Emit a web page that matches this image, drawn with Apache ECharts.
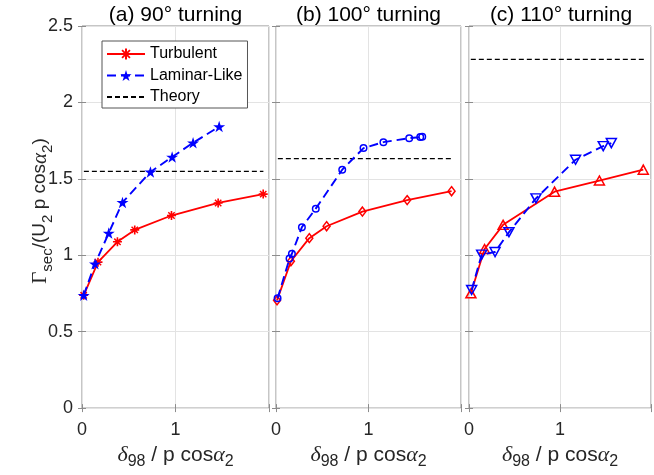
<!DOCTYPE html>
<html><head><meta charset="utf-8">
<script src="https://cdn.jsdelivr.net/npm/echarts@6/dist/echarts.min.js"></script>
<style>html,body{margin:0;padding:0;background:#fff}#c{width:654px;height:475px}</style>
</head><body><div id="c"></div>
<script>
const panelTitles = ['(a) 90° turning', '(b) 100° turning', '(c) 110° turning'];
const seriesNames = ['Turbulent', 'Laminar-Like', 'Theory'];

const turb90X = [0.018, 0.171, 0.379, 0.564, 0.957, 1.456, 1.938];
const turb90Y = [0.738, 0.955, 1.088, 1.166, 1.260, 1.342, 1.400];
const lam90X = [0.018, 0.139, 0.286, 0.433, 0.732, 0.964, 1.188, 1.467];
const lam90Y = [0.738, 0.944, 1.145, 1.346, 1.545, 1.643, 1.736, 1.842];

const turb100X = [0.011, 0.161, 0.360, 0.547, 0.934, 1.418, 1.898];
const turb100Y = [0.705, 0.961, 1.112, 1.190, 1.286, 1.361, 1.419];
const lam100X = [0.017, 0.146, 0.172, 0.280, 0.430, 0.716, 0.946, 1.161, 1.440, 1.559, 1.581];
const lam100Y = [0.718, 0.978, 1.010, 1.184, 1.305, 1.560, 1.701, 1.740, 1.766, 1.773, 1.775];

const turb110X = [0.021, 0.171, 0.375, 0.940, 1.433, 1.915];
const turb110Y = [0.751, 1.041, 1.199, 1.416, 1.489, 1.560];
const lam110X = [0.029, 0.139, 0.286, 0.439, 0.736, 1.171, 1.475, 1.564];
const lam110Y = [0.773, 1.004, 1.021, 1.151, 1.372, 1.625, 1.714, 1.734];

const theoryY = [1.549, 1.632, 2.282];
const theoryXStart = [0.02, 0.02, 0.02];
const theoryXEnd = [1.94, 1.90, 1.93];

const xTickLabels = ['0', '1'];

function pairs(xs, ys) { return xs.map((x, i) => [x, ys[i]]); }

const RED = '#ff0000', BLUE = '#0000ff';
const FONT = 'Liberation Sans, Arial, sans-serif';
const SERIF = 'Liberation Serif, Times New Roman, serif';
const AXC = '#8c8c8c';

const asterisk = 'path://M-5,-0.9L5,-0.9L5,0.9L-5,0.9Z M-0.9,-5L0.9,-5L0.9,5L-0.9,5Z M-2.97,-4.1L4.1,2.97L2.97,4.1L-4.1,-2.97Z M4.1,-2.97L-2.97,4.1L-4.1,2.97L2.97,-4.1Z';
const pentagram = 'path://M0,-10L2.245,-3.09L9.51,-3.09L3.63,1.18L5.88,8.09L0,3.82L-5.88,8.09L-3.63,1.18L-9.51,-3.09L-2.245,-3.09Z';

const panels = [
  { turb: pairs(turb90X, turb90Y), lam: pairs(lam90X, lam90Y),
    tSym: asterisk, tSize: 9, tFill: RED, lSym: pentagram, lSize: [12, 11.5], lFill: BLUE, lRot: 0 },
  { turb: pairs(turb100X, turb100Y), lam: pairs(lam100X, lam100Y),
    tSym: 'diamond', tSize: [7, 9], tFill: 'rgba(0,0,0,0)', lSym: 'circle', lSize: 6.5, lFill: 'rgba(0,0,0,0)', lRot: 0 },
  { turb: pairs(turb110X, turb110Y), lam: pairs(lam110X, lam110Y),
    tSym: 'triangle', tSize: [10, 9], tFill: 'rgba(0,0,0,0)', lSym: 'triangle', lSize: [10, 9], lFill: 'rgba(0,0,0,0)', lRot: 180 }
];

const gridLefts = [82, 276, 469];
const gridWidths = [187, 185, 184];
const TOP = 26, H = 385;

const xRich = {
  d: { fontFamily: SERIF, fontStyle: 'italic', fontSize: 22, lineHeight: 30, color: '#262626' },
  n: { fontFamily: FONT, fontSize: 21, lineHeight: 30, color: '#262626' },
  s: { fontFamily: FONT, fontSize: 16, lineHeight: 11, verticalAlign: 'bottom', color: '#262626' }
};
const xName = '{d|δ}{s|98}{n| / p cos}{d|α}{s|2}';

const grids = [], xAxes = [], yAxes = [], series = [], titles = [];
panels.forEach((p, i) => {
  grids.push({ left: gridLefts[i], top: TOP, width: gridWidths[i], height: H,
    show: true, borderColor: AXC, borderWidth: 1, backgroundColor: 'rgba(0,0,0,0)' });
  titles.push({ text: panelTitles[i], left: gridLefts[i] + gridWidths[i] / 2, top: 5, textAlign: 'center', padding: 0,
    textStyle: { fontFamily: FONT, fontSize: 21, fontWeight: 'normal', color: '#000' } });
});
panels.forEach((p, i) => {
  xAxes.push({ type: 'value', gridIndex: i, min: 0, max: 2, interval: 1,
    axisLine: { show: false },
    axisTick: { show: true, inside: true, length: 4, lineStyle: { color: AXC } },
    splitLine: { show: true, lineStyle: { color: '#e3e3e3', width: 1 } },
    axisLabel: { fontFamily: FONT, fontSize: 18, color: '#262626', margin: 13,
      formatter: v => (v < xTickLabels.length ? xTickLabels[v] : '') },
    name: xName, nameLocation: 'middle', nameGap: 30, nameTextStyle: { rich: xRich } });
  yAxes.push({ type: 'value', gridIndex: i, min: 0, max: 2.5, interval: 0.5,
    axisLine: { show: false },
    axisTick: { show: true, inside: true, length: 4, lineStyle: { color: AXC } },
    splitLine: { show: true, lineStyle: { color: '#e3e3e3', width: 1 } },
    axisLabel: { show: i === 0, fontFamily: FONT, fontSize: 18, color: '#262626', margin: 9 } });
});
panels.forEach((p, i) => {
  // mirrored ticks on top and right (box style)
  xAxes.push({ type: 'value', gridIndex: i, position: 'top', min: 0, max: 2, interval: 1,
    axisLine: { show: false }, splitLine: { show: false }, axisLabel: { show: false },
    axisTick: { show: true, inside: true, length: 4, lineStyle: { color: AXC } } });
  yAxes.push({ type: 'value', gridIndex: i, position: 'right', min: 0, max: 2.5, interval: 0.5,
    axisLine: { show: false }, splitLine: { show: false }, axisLabel: { show: false },
    axisTick: { show: true, inside: true, length: 4, lineStyle: { color: AXC } } });
});
panels.forEach((p, i) => {
  series.push({ name: seriesNames[0], type: 'line', xAxisIndex: i, yAxisIndex: i, data: p.turb,
    symbol: p.tSym, symbolSize: p.tSize, showSymbol: true,
    lineStyle: { color: RED, width: 1.8 },
    itemStyle: { color: p.tFill, borderColor: RED, borderWidth: i === 0 ? 0 : 1.5 },
    z: 3, animation: false });
  series.push({ name: seriesNames[1], type: 'line', xAxisIndex: i, yAxisIndex: i, data: p.lam,
    symbol: p.lSym, symbolSize: p.lSize, symbolRotate: p.lRot, showSymbol: true,
    lineStyle: { color: BLUE, width: 1.9, type: [9, 5] },
    itemStyle: { color: p.lFill, borderColor: BLUE, borderWidth: i === 0 ? 0 : 1.5 },
    z: 4, animation: false });
  series.push({ name: seriesNames[2], type: 'line', xAxisIndex: i, yAxisIndex: i,
    data: [[theoryXStart[i], theoryY[i]], [theoryXEnd[i], theoryY[i]]],
    symbol: 'none', lineStyle: { color: '#000', width: 1.3, type: [5, 3] },
    itemStyle: { color: '#000' }, z: 2, animation: false });
});

const option = {
  animation: false,
  backgroundColor: '#fff',
  title: titles,
  grid: grids, xAxis: xAxes, yAxis: yAxes, series: series,
  legend: {
    data: [seriesNames[0], seriesNames[1], { name: seriesNames[2], itemStyle: { opacity: 0 } }],
    orient: 'vertical', left: 102, top: 41,
    padding: [5, 5, 3, 4], itemGap: 5.5, itemWidth: 38, itemHeight: 14,
    backgroundColor: '#fff', borderColor: '#555', borderWidth: 1,
    textStyle: { fontFamily: FONT, fontSize: 16, color: '#000' },
    selectedMode: false
  },
  graphic: [{
    type: 'text', x: 40, y: 211, rotation: Math.PI / 2,
    style: {
      text: '{g|Γ}{s|sec}{n|/(U}{s|2}{n| p cos}{a|α}{s|2}{n|)}',
      align: 'center', verticalAlign: 'middle',
      rich: {
        g: { fontFamily: SERIF, fontSize: 21, lineHeight: 30, fill: '#262626' },
        n: { fontFamily: FONT, fontSize: 19, lineHeight: 30, fill: '#262626' },
        a: { fontFamily: SERIF, fontStyle: 'italic', fontSize: 21, lineHeight: 30, fill: '#262626' },
        s: { fontFamily: FONT, fontSize: 15, lineHeight: 11, verticalAlign: 'bottom', fill: '#262626' }
      }
    }
  }]
};
const chart = echarts.init(document.getElementById('c'), null, { renderer: 'canvas' });
chart.setOption(option);
</script></body></html>
